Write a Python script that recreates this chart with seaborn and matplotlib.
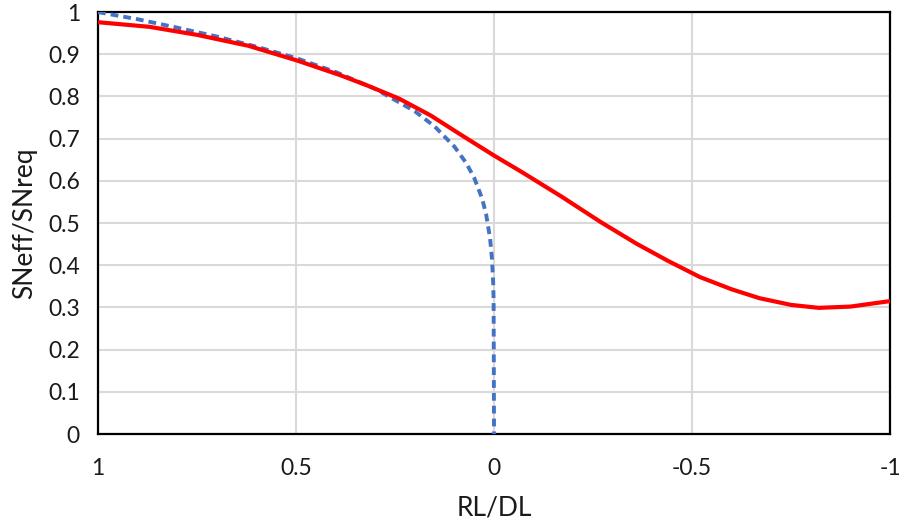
import numpy as np
import pandas as pd
import matplotlib
matplotlib.use("Agg")
import matplotlib.pyplot as plt
import seaborn as sns
from matplotlib.ticker import FuncFormatter, MultipleLocator

# values
red_x = [1.0, 0.87, 0.75, 0.62, 0.5, 0.39, 0.32, 0.24, 0.16, 0.09, 0.0, -0.07, -0.17,
         -0.27, -0.36, -0.44, -0.52, -0.6, -0.67, -0.75, -0.82, -0.9, -1.0]
red_y = [0.976, 0.965, 0.946, 0.92, 0.886, 0.851, 0.826, 0.795, 0.755, 0.713, 0.66,
         0.621, 0.563, 0.502, 0.451, 0.41, 0.372, 0.343, 0.322, 0.306, 0.299, 0.302, 0.315]

blue_x = [1.0, 0.9, 0.8, 0.7, 0.6, 0.5, 0.4, 0.3, 0.2, 0.15, 0.1, 0.07, 0.05,
          0.03, 0.02, 0.01, 0.005, 0.002, 0.001, 0.0]
blue_y = [1.0, 0.983, 0.963, 0.942, 0.918, 0.891, 0.858, 0.818, 0.765, 0.729, 0.681,
          0.642, 0.607, 0.558, 0.521, 0.464, 0.414, 0.355, 0.316, 0.0]

x_ticks = [1, 0.5, 0, -0.5, -1]

sns.set_theme(style="white")
plt.rcParams['font.family'] = ['Lato', 'DejaVu Sans']

df_red = pd.DataFrame({'x': red_x, 'y': red_y})
df_blue = pd.DataFrame({'x': blue_x, 'y': blue_y})

fig = plt.figure(figsize=(9.01, 5.25), dpi=100)
ax = fig.add_axes([0.1088, 0.1733, 0.879, 0.8037])

ax.set_xlim(1, -1)
ax.set_ylim(0, 1)
ax.yaxis.set_major_locator(MultipleLocator(0.1))
ax.set_xticks(x_ticks)
fmt = FuncFormatter(lambda v, p: ('%g' % round(v, 2)).replace('\u2212', '-'))
ax.xaxis.set_major_formatter(fmt)
ax.yaxis.set_major_formatter(fmt)
ax.grid(True, color='#d9d9d9', linewidth=1.5)
ax.set_axisbelow(True)

sns.lineplot(data=df_blue, x='x', y='y', ax=ax, sort=False, color='#4472C4',
             linewidth=2.8, linestyle=(0, (2.0, 1.3)), zorder=3)
sns.lineplot(data=df_red, x='x', y='y', ax=ax, sort=False, color='#FF0000',
             linewidth=3.0, zorder=4)

for s in ax.spines.values():
    s.set_color('black')
    s.set_linewidth(1.6)

ax.tick_params(axis='x', length=0, pad=17, labelsize=16.5, colors='#1a1a1a')
ax.tick_params(axis='y', length=0, pad=13, labelsize=16.5, colors='#1a1a1a')
ax.set_xlabel('RL/DL', fontsize=19, labelpad=12, color='#1a1a1a')
ax.set_ylabel('SNeff/SNreq', fontsize=19, labelpad=8, color='#1a1a1a')

fig.savefig('out.png', dpi=100)
